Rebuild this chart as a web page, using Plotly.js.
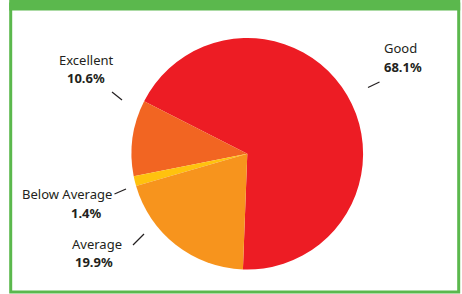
<!DOCTYPE html>
<html>
<head>
<meta charset="utf-8">
<script src="https://cdn.plot.ly/plotly-3.0.1.min.js"></script>
<style>html,body{margin:0;padding:0;background:#fff;}#chart{width:462px;height:294px;}</style>
</head>
<body>
<div id="chart"></div>
<script>
// Data
const categories = ["Good", "Excellent", "Below Average", "Average"];
const values = [68.1, 10.6, 1.4, 19.9];
const sliceColors = ["#ED1C24", "#F26522", "#FFC20E", "#F7941D"];

const W = 462, H = 294;
const px = x => x / W;
const py = y => 1 - y / H;

// label layout (pixel positions of name, value and leader line)
const labelLayout = [
  {name: [400, 48], val: [403, 67], line: [368, 87.5, 379.5, 82]},
  {name: [85.5, 60], val: [85.5, 77.5], line: [112, 92, 122, 100]},
  {name: [67, 194], val: [86.5, 213], line: [114.5, 194, 126, 189]},
  {name: [96.5, 243.5], val: [94, 262], line: [133, 245, 144, 234]}
];

const textColor = "#231F20";
const fontFam = "Noto Sans, Open Sans, sans-serif";
const green = "#5BB84D";

const annotations = [];
const shapes = [];
categories.forEach((c, i) => {
  const L = labelLayout[i];
  annotations.push({x: px(L.name[0]), y: py(L.name[1]), xref: "paper", yref: "paper",
    text: c, showarrow: false, xanchor: "center", yanchor: "middle",
    font: {family: fontFam, size: 13, color: textColor}});
  annotations.push({x: px(L.val[0]), y: py(L.val[1]), xref: "paper", yref: "paper",
    text: "<b>" + values[i].toFixed(1) + "%</b>", showarrow: false, xanchor: "center", yanchor: "middle",
    font: {family: fontFam, size: 13, color: textColor}});
  shapes.push({type: "line", xref: "paper", yref: "paper",
    x0: px(L.line[0]), y0: py(L.line[1]), x1: px(L.line[2]), y1: py(L.line[3]),
    line: {color: textColor, width: 1.2}});
});

// frame
shapes.push({type: "rect", xref: "paper", yref: "paper", x0: px(10.7), x1: px(458.7), y0: py(292), y1: py(4),
  line: {color: green, width: 3}, fillcolor: "rgba(0,0,0,0)"});
shapes.push({type: "rect", xref: "paper", yref: "paper", x0: px(9.2), x1: px(460.2), y0: py(10.5), y1: py(0),
  line: {width: 0}, fillcolor: green});

const trace = {
  type: "pie",
  labels: categories,
  values: values,
  marker: {colors: sliceColors, line: {width: 0}},
  sort: false,
  direction: "counterclockwise",
  rotation: 297,
  textinfo: "none",
  hoverinfo: "none",
  showlegend: false,
  domain: {x: [px(131.5), px(363.1)], y: [py(269.6), py(38)]}
};

const layout = {
  width: W, height: H,
  margin: {l: 0, r: 0, t: 0, b: 0},
  paper_bgcolor: "#ffffff",
  showlegend: false,
  annotations: annotations,
  shapes: shapes
};

Plotly.newPlot("chart", [trace], layout, {staticPlot: true, displayModeBar: false});
</script>
</body>
</html>
